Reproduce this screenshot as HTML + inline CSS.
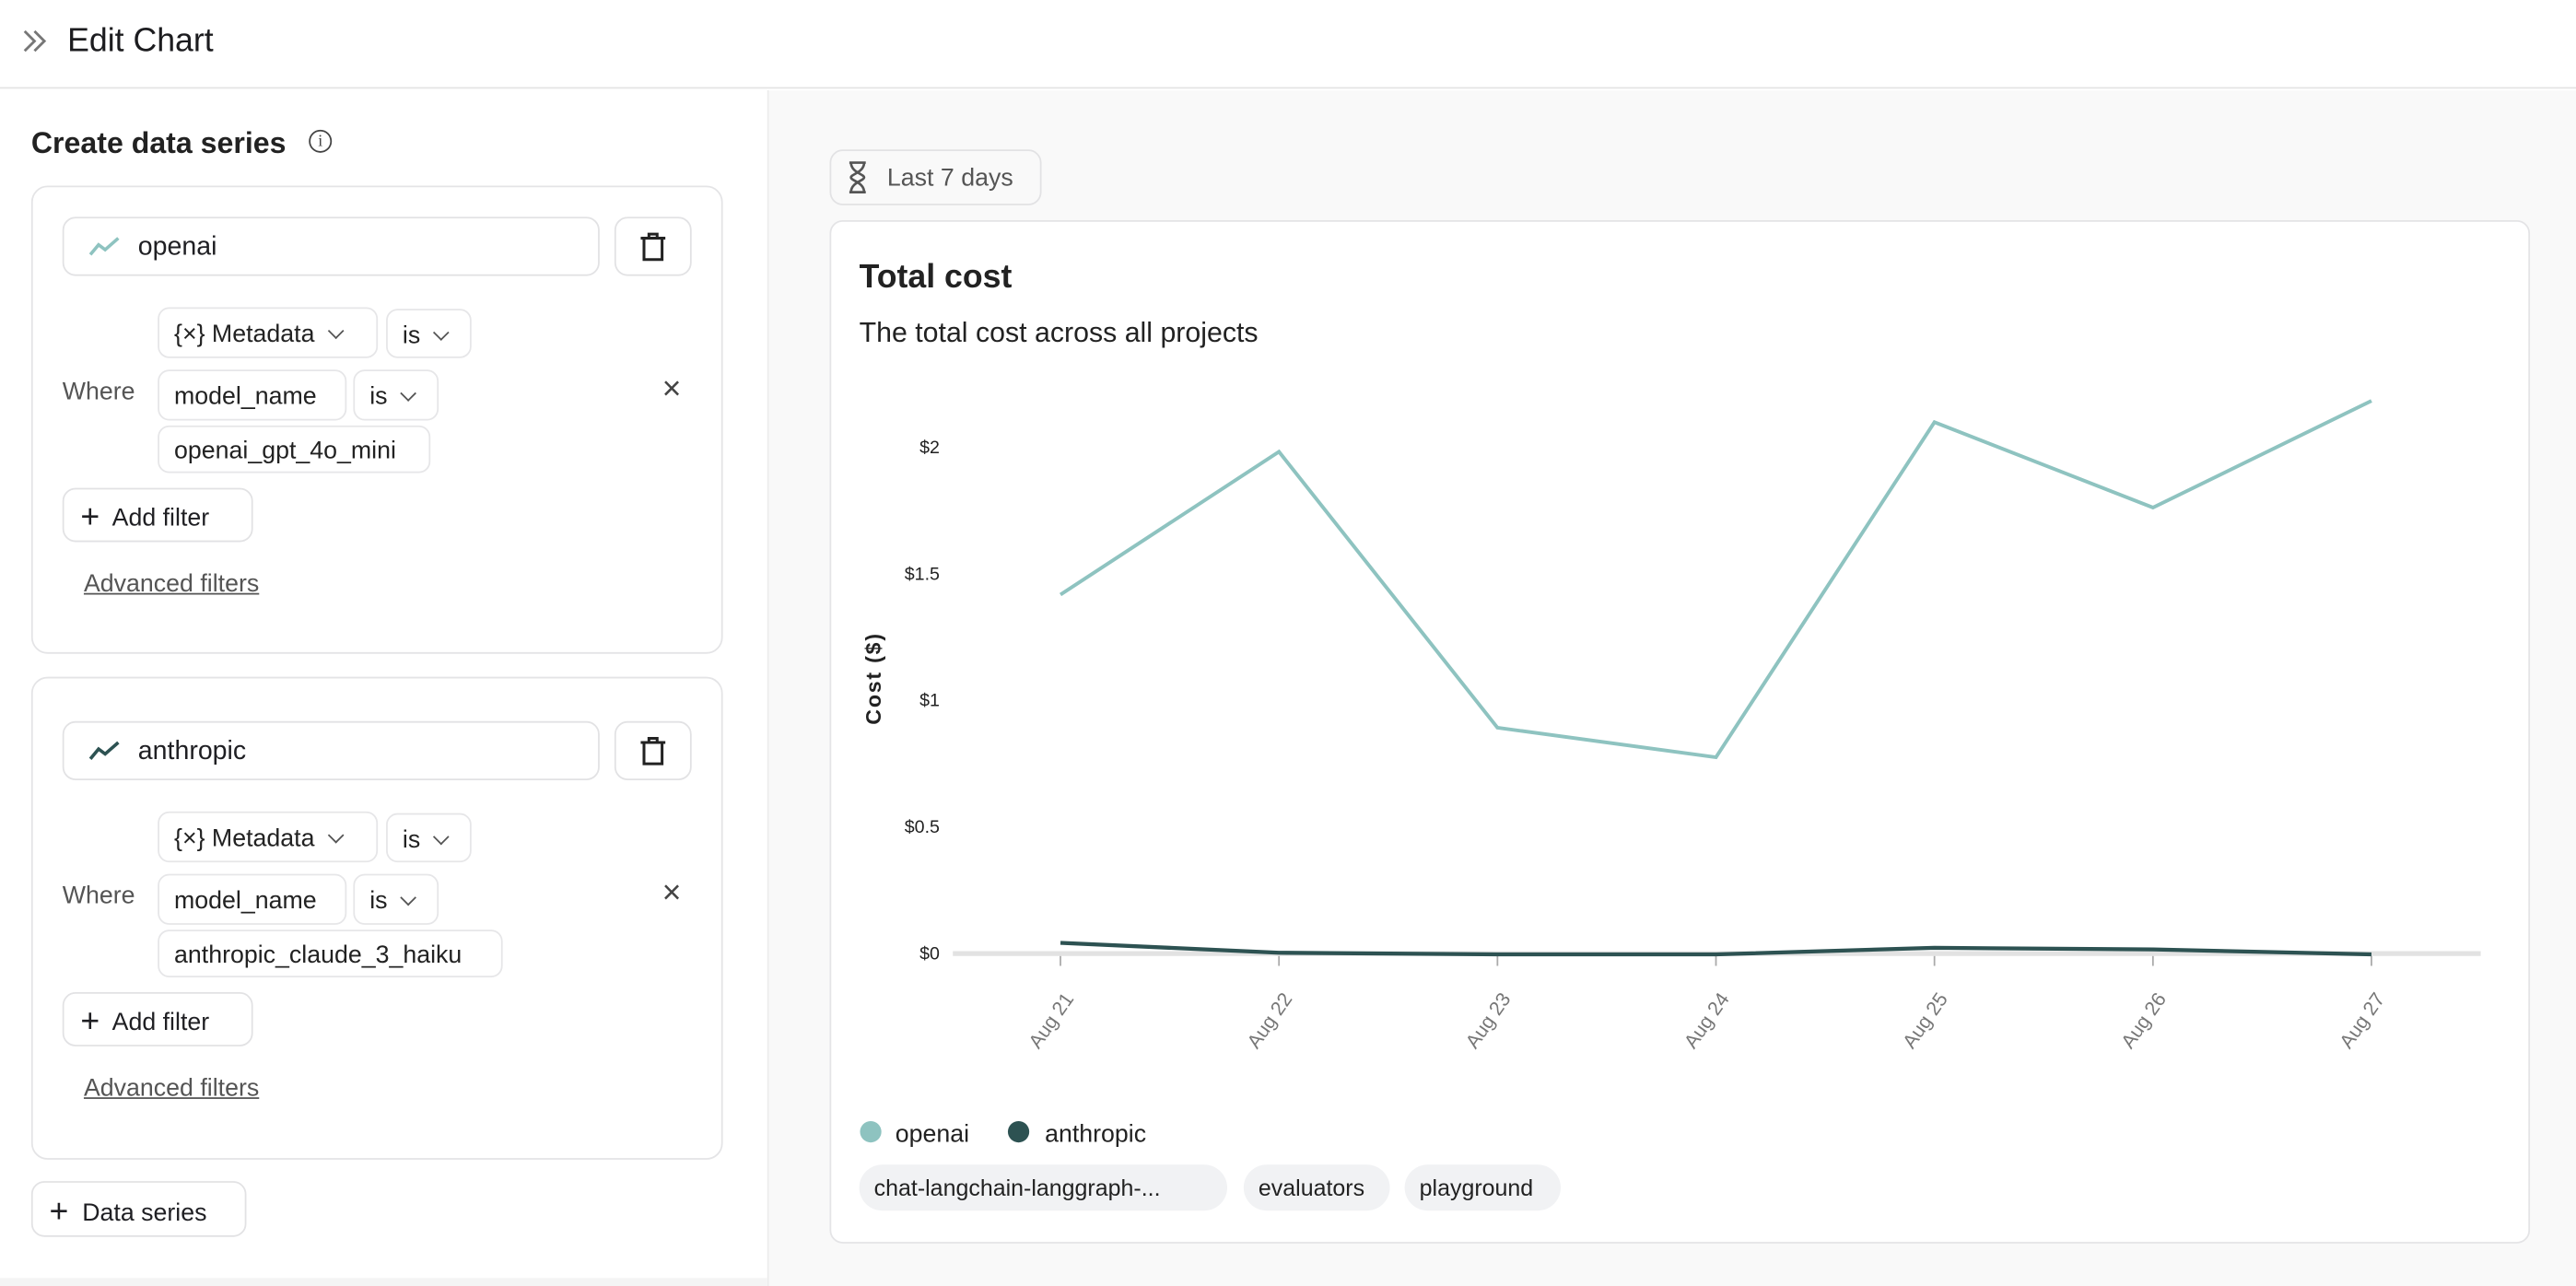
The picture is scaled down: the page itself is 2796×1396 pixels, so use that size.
<!DOCTYPE html>
<html><head><meta charset="utf-8">
<style>
html,body{margin:0;padding:0;width:2796px;height:1396px;overflow:hidden;background:#fff;}
#w{position:absolute;left:0;top:0;width:1568px;height:783px;transform:scale(1.78316);transform-origin:0 0;font-family:"Liberation Sans",sans-serif;color:#1f1f23;}
.a{position:absolute;box-sizing:border-box;}
.pill{position:absolute;box-sizing:border-box;border:1px solid #e6e6e8;border-radius:7px;background:#fff;font-size:15px;line-height:31px;padding-left:9px;color:#222;}
.chev{display:inline-block;width:6px;height:6px;border-right:1.3px solid #555;border-bottom:1.3px solid #555;transform:rotate(45deg);margin-left:9px;position:relative;top:-3px;}
.btn{position:absolute;box-sizing:border-box;border:1px solid #e2e2e4;border-radius:8px;background:#fff;font-size:15px;}
.tag{position:absolute;top:709px;height:28px;line-height:29px;border-radius:14px;background:#f1f2f4;font-size:14px;padding:0 9px;box-sizing:border-box;color:#222;}
</style></head><body><div id="w">
<!-- header -->
<div class="a" style="left:0;top:0;width:1568px;height:54px;border-bottom:1px solid #e4e4e4;background:#fff"></div>
<svg class="a" style="left:13px;top:17px" width="16" height="16"><path d="M2 2L8 8L2 14M8 2L14 8L8 14" fill="none" stroke="#777" stroke-width="1.6"/></svg>
<div class="a" style="left:41px;top:14px;font-size:20px;color:#1c1c1f">Edit Chart</div>
<!-- right bg -->
<div class="a" style="left:467px;top:55px;width:1101px;height:728px;background:#f9f9f9;border-left:1px solid #ececec"></div>
<div class="a" style="left:0;top:778px;width:467px;height:5px;background:#f4f4f4"></div>
<!-- left -->
<div class="a" style="left:19px;top:77px;font-size:18px;font-weight:bold;color:#222">Create data series</div>
<div class="a" style="left:188px;top:79px;width:14px;height:14px;border:1.3px solid #444;border-radius:50%;font-size:10px;text-align:center;line-height:13px;font-family:'Liberation Serif',serif;color:#444">i</div>

<!-- card 1 -->
<div class="a" style="left:19px;top:113px;width:421px;height:285px;border:1px solid #e4e4e6;border-radius:10px;background:#fff"></div>
<div class="btn" style="left:38px;top:132px;width:327px;height:36px"></div>
<svg class="a" style="left:54px;top:142px" width="20" height="16"><polyline points="1,13 6,7 10,10 18,3" fill="none" stroke="#8ec3c0" stroke-width="2"/></svg>
<div class="a" style="left:84px;top:142px;font-size:16px">openai</div>
<div class="btn" style="left:374px;top:132px;width:47px;height:36px"></div>
<svg class="a" style="left:389px;top:141px" width="17" height="18"><path d="M1 4H16M6 4V1.5H11V4M3 4V17H14V4" fill="none" stroke="#222" stroke-width="1.7"/></svg>
<div class="a" style="left:38px;top:230px;font-size:15px;color:#555">Where</div>
<div class="pill" style="left:96px;top:187px;width:134px;height:31px">{×} Metadata<span class="chev"></span></div>
<div class="pill" style="left:235px;top:188px;width:52px;height:30px">is<span class="chev"></span></div>
<div class="pill" style="left:96px;top:225px;width:115px;height:31px">model_name</div>
<div class="pill" style="left:215px;top:225px;width:52px;height:31px">is<span class="chev"></span></div>
<div class="pill" style="left:96px;top:259px;width:166px;height:29px;line-height:29px">openai_gpt_4o_mini</div>
<div class="a" style="left:403px;top:226px;font-size:20px;color:#444">×</div>
<div class="btn" style="left:38px;top:297px;width:116px;height:33px;line-height:33px;padding-left:10px"><span style="font-size:20px;position:relative;top:1px">+</span>&nbsp; Add filter</div>
<div class="a" style="left:51px;top:347px;font-size:15px;color:#555;text-decoration:underline">Advanced filters</div>

<!-- card 2 -->
<div class="a" style="left:19px;top:412px;width:421px;height:294px;border:1px solid #e4e4e6;border-radius:10px;background:#fff"></div>
<div class="btn" style="left:38px;top:439px;width:327px;height:36px"></div>
<svg class="a" style="left:54px;top:449px" width="20" height="16"><polyline points="1,13 6,7 10,10 18,3" fill="none" stroke="#2d5252" stroke-width="2"/></svg>
<div class="a" style="left:84px;top:449px;font-size:16px">anthropic</div>
<div class="btn" style="left:374px;top:439px;width:47px;height:36px"></div>
<svg class="a" style="left:389px;top:448px" width="17" height="18"><path d="M1 4H16M6 4V1.5H11V4M3 4V17H14V4" fill="none" stroke="#222" stroke-width="1.7"/></svg>
<div class="a" style="left:38px;top:537px;font-size:15px;color:#555">Where</div>
<div class="pill" style="left:96px;top:494px;width:134px;height:31px">{×} Metadata<span class="chev"></span></div>
<div class="pill" style="left:235px;top:495px;width:52px;height:30px">is<span class="chev"></span></div>
<div class="pill" style="left:96px;top:532px;width:115px;height:31px">model_name</div>
<div class="pill" style="left:215px;top:532px;width:52px;height:31px">is<span class="chev"></span></div>
<div class="pill" style="left:96px;top:566px;width:210px;height:29px;line-height:29px">anthropic_claude_3_haiku</div>
<div class="a" style="left:403px;top:533px;font-size:20px;color:#444">×</div>
<div class="btn" style="left:38px;top:604px;width:116px;height:33px;line-height:33px;padding-left:10px"><span style="font-size:20px;position:relative;top:1px">+</span>&nbsp; Add filter</div>
<div class="a" style="left:51px;top:654px;font-size:15px;color:#555;text-decoration:underline">Advanced filters</div>

<div class="btn" style="left:19px;top:719px;width:131px;height:34px;line-height:34px;padding-left:10px"><span style="font-size:20px;position:relative;top:1px">+</span>&nbsp; Data series</div>

<!-- right -->
<div class="btn" style="left:505px;top:91px;width:129px;height:34px;background:#f9f9f9;line-height:34px;padding-left:34px;color:#555">Last 7 days</div>
<svg class="a" style="left:515px;top:98px" width="14" height="20"><path d="M2 1H12M2 19H12M3 1C3 7 11 8 11 10C11 12 3 13 3 19M11 1C11 7 3 8 3 10C3 12 11 13 11 19" fill="none" stroke="#555" stroke-width="1.5"/></svg>
<div class="a" style="left:505px;top:134px;width:1035px;height:623px;border:1px solid #e4e4e6;border-radius:8px;background:#fff"></div>
<div class="a" style="left:523px;top:158px;font-size:20px;font-weight:bold;color:#222">Total cost</div>
<div class="a" style="left:523px;top:193px;font-size:17px;color:#222">The total cost across all projects</div>

<svg class="a" style="left:0;top:0" width="1568" height="783" font-family="Liberation Sans, sans-serif">
<g font-size="11" fill="#222" text-anchor="end">
<text x="572" y="276">$2</text><text x="572" y="353">$1.5</text><text x="572" y="430">$1</text><text x="572" y="507">$0.5</text><text x="572" y="584">$0</text>
</g>
<text transform="translate(536,413) rotate(-90)" font-size="13" font-weight="bold" fill="#222" text-anchor="middle" letter-spacing="1">Cost ($)</text>
<line x1="580" y1="580.5" x2="1510" y2="580.5" stroke="#e2e2e2" stroke-width="3"/>
<g stroke="#aaa" stroke-width="1">
<line x1="645.5" y1="582" x2="645.5" y2="588"/><line x1="778.5" y1="582" x2="778.5" y2="588"/><line x1="911.5" y1="582" x2="911.5" y2="588"/><line x1="1044.5" y1="582" x2="1044.5" y2="588"/><line x1="1177.5" y1="582" x2="1177.5" y2="588"/><line x1="1310.5" y1="582" x2="1310.5" y2="588"/><line x1="1443.5" y1="582" x2="1443.5" y2="588"/>
</g>
<g font-size="12" fill="#777" text-anchor="end">
<text transform="translate(654,608) rotate(-55)">Aug 21</text>
<text transform="translate(787,608) rotate(-55)">Aug 22</text>
<text transform="translate(920,608) rotate(-55)">Aug 23</text>
<text transform="translate(1053,608) rotate(-55)">Aug 24</text>
<text transform="translate(1186,608) rotate(-55)">Aug 25</text>
<text transform="translate(1319,608) rotate(-55)">Aug 26</text>
<text transform="translate(1452,608) rotate(-55)">Aug 27</text>
</g>
<polyline points="645.5,362 778.5,275 911.5,443 1044.5,461 1177.5,257 1310.5,309 1443.5,244" fill="none" stroke="#8ec3c0" stroke-width="2.2"/>
<polyline points="645.5,574 778.5,580 911.5,581 1044.5,581 1177.5,577 1310.5,578 1443.5,581" fill="none" stroke="#2d5252" stroke-width="2.4"/>
<circle cx="530" cy="689" r="6.5" fill="#8ec3c0"/><circle cx="620" cy="689" r="6.5" fill="#2d5252"/>
<text x="545" y="695" font-size="15" fill="#222">openai</text>
<text x="636" y="695" font-size="15" fill="#222">anthropic</text>
</svg>
<div class="tag" style="left:523px;width:224px">chat-langchain-langgraph-...</div>
<div class="tag" style="left:757px;width:89px">evaluators</div>
<div class="tag" style="left:855px;width:95px">playground</div>
</div></body></html>
